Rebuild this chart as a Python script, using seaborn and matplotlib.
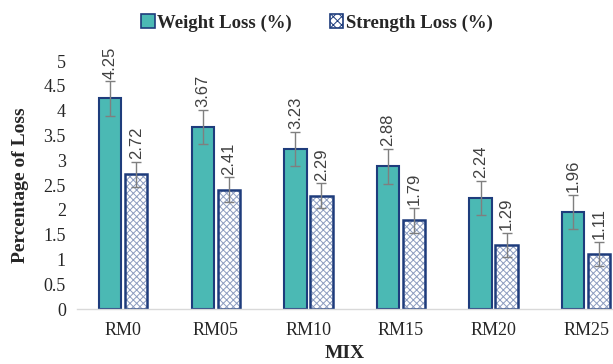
import matplotlib
matplotlib.use("Agg")
import matplotlib.pyplot as plt
from matplotlib.patches import Patch
import pandas as pd
import seaborn as sns

# values
mixes = ["RM0", "RM05", "RM10", "RM15", "RM20", "RM25"]
weight_loss = [4.25, 3.67, 3.23, 2.88, 2.24, 1.96]
strength_loss = [2.72, 2.41, 2.29, 1.79, 1.29, 1.11]
weight_err = [0.35, 0.35, 0.35, 0.35, 0.35, 0.35]
strength_err = [0.25, 0.25, 0.25, 0.25, 0.25, 0.25]
series = ["Weight Loss (%)", "Strength Loss (%)"]
yticks = [0, 0.5, 1, 1.5, 2, 2.5, 3, 3.5, 4, 4.5, 5]

teal = "#4BB9B4"
navy = "#1E3C7C"
hatch_col = "#8C9CBF"
serif = ["Liberation Serif", "DejaVu Serif"]

sns.set_style("white")
plt.rcParams['font.family'] = serif
plt.rcParams['hatch.linewidth'] = 0.7

df = pd.DataFrame({
    "MIX": mixes * 2,
    "Series": [series[0]] * len(mixes) + [series[1]] * len(mixes),
    "Value": weight_loss + strength_loss,
})

fig = plt.figure(figsize=(6.13, 3.64), dpi=100)
ax = fig.add_axes([0.1256, 0.151, 0.8744, 0.681])

sns.barplot(data=df, x="MIX", y="Value", hue="Series", hue_order=series,
            palette=[teal, "white"], width=0.56, gap=0.14, errorbar=None,
            legend=False, ax=ax)

n = len(mixes)
bars_w = ax.patches[:n]
bars_s = ax.patches[n:2 * n]

for p in bars_w:
    p.set_facecolor(teal)
    p.set_edgecolor(navy)
    p.set_linewidth(1.5)

# hatched bars: hatch drawn in edge colour, then navy outline on top
for p in bars_s:
    p.set_facecolor("white")
    p.set_edgecolor(hatch_col)
    p.set_hatch("xxxxx")
    p.set_linewidth(0)
    ax.add_patch(plt.Rectangle((p.get_x(), p.get_y()), p.get_width(), p.get_height(),
                               fill=False, edgecolor=navy, linewidth=1.8, zorder=p.get_zorder() + 0.1))

for bars, vals, errs in [(bars_w, weight_loss, weight_err), (bars_s, strength_loss, strength_err)]:
    xs = [p.get_x() + p.get_width() / 2 for p in bars]
    ax.errorbar(xs, vals, yerr=errs, fmt="none", ecolor="#7F7F7F", elinewidth=1,
                capsize=3.5, capthick=1, zorder=5)
    for x, v, e in zip(xs, vals, errs):
        ax.text(x, v + e + 0.05, f"{v:.2f}", rotation=90, ha="center", va="bottom",
                fontsize=12, color="#404040", family=["Liberation Sans", "DejaVu Sans"],
                clip_on=False)

ax.set_xlim(-0.5, 5.29)
ax.set_ylim(0, 5)
ax.set_yticks(yticks)
ax.set_yticklabels([f"{t:g}" for t in yticks])
ax.tick_params(axis="both", length=0, labelsize=13, colors="#262626")
ax.tick_params(axis="x", pad=9)
ax.tick_params(axis="y", pad=8)

for s in ["top", "right", "left"]:
    ax.spines[s].set_visible(False)
ax.spines["bottom"].set_color("#D9D9D9")
ax.spines["bottom"].set_linewidth(1)

ax.set_xlabel("MIX", fontsize=14, fontweight="bold", labelpad=5)
ax.set_ylabel("Percentage of Loss", fontsize=14, fontweight="bold", labelpad=10)

handles = [Patch(facecolor=teal, edgecolor=navy, linewidth=1.2),
           Patch(facecolor="white", edgecolor=navy, hatch="xxxx", linewidth=1.2)]
fig.legend(handles, series, loc="center", bbox_to_anchor=(0.517, 0.937), ncol=2,
           frameon=False, prop={"weight": "bold", "size": 13.5}, handlelength=0.7,
           handleheight=0.7, handletextpad=0.15, columnspacing=2.0)

fig.savefig("out.png", dpi=100)
